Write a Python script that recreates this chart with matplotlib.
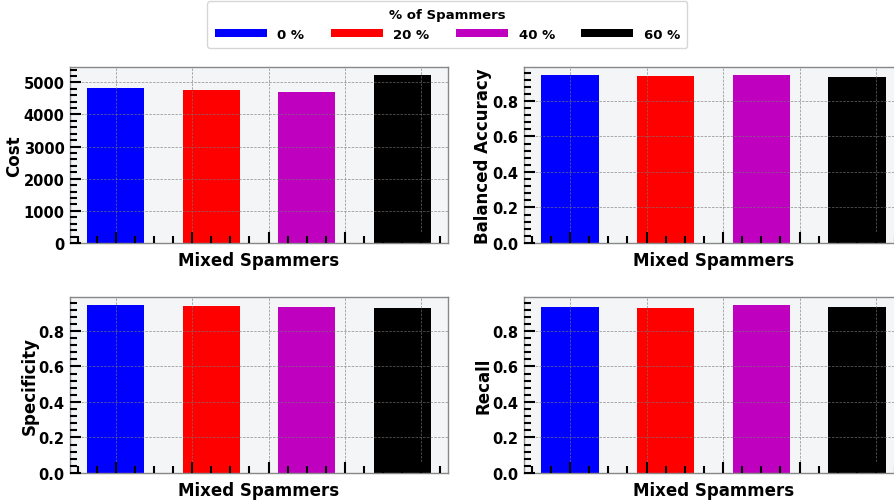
import numpy as np
import matplotlib.pyplot as plt
from matplotlib.ticker import AutoMinorLocator, MultipleLocator

plt.rcParams['font.family'] = ['DejaVu Sans']
plt.rcParams['font.weight'] = 'bold'

groupes = ['0 %', '20 %', '40 %', '60 %']
couleurs = ['#0000ff', '#ff0000', '#bf00bf', '#000000']

cost = [4814, 4773, 4711, 5217]
balanced_acc = [0.944, 0.940, 0.944, 0.937]
specificity = [0.944, 0.939, 0.935, 0.931]
recall = [0.935, 0.931, 0.944, 0.935]

panneaux = [('Cost', cost), ('Balanced Accuracy', balanced_acc),
            ('Specificity', specificity), ('Recall', recall)]

W, H = 895, 502
fig = plt.figure(figsize=(W / 100, H / 100), dpi=100)

# positions des axes en pixels : (gauche, haut, droite, bas)
boites = [(70, 68, 448, 244), (524, 68, 903, 244),
          (70, 298, 448, 474), (524, 298, 903, 474)]

largeur = 0.75
pas = 1.25
x = np.arange(len(groupes)) * pas

for (label, valeurs), (x0, y0, x1, y1) in zip(panneaux, boites):
    ax = fig.add_axes([x0 / W, 1 - y1 / H, (x1 - x0) / W, (y1 - y0) / H])
    ax.set_facecolor('#f4f5f7')
    barres = ax.bar(x, valeurs, width=largeur, color=couleurs,
                    edgecolor='none', zorder=1)
    ax.grid(True, which='major', color='#777777', alpha=0.7,
            linestyle=(0, (3, 1.5)), linewidth=0.6, zorder=3)
    ax.set_axisbelow(False)
    ax.xaxis.set_major_locator(MultipleLocator(1))
    ax.xaxis.set_minor_locator(MultipleLocator(0.25))
    ax.yaxis.set_minor_locator(AutoMinorLocator(5))
    ax.tick_params(axis='x', which='major', direction='in', length=8,
                   width=1.5, bottom=True, top=False, labelbottom=False)
    ax.tick_params(axis='x', which='minor', direction='in', length=5,
                   width=1.5, bottom=True, top=False)
    ax.tick_params(axis='y', which='major', direction='in', length=8,
                   width=1.5, left=True, right=False, labelsize=10.5, pad=4)
    ax.tick_params(axis='y', which='minor', direction='in', length=5,
                   width=1.5, left=True, right=False)
    for s in ax.spines.values():
        s.set_color('#888888')
        s.set_linewidth(1.0)
    ax.set_xlabel('Mixed Spammers', fontsize=12, fontweight='bold', labelpad=2)
    ax.set_ylabel(label, fontsize=12, fontweight='bold', labelpad=0)
    for t in ax.get_yticklabels():
        t.set_fontweight('bold')

handles = barres.patches
fig.legend(handles, groupes, loc='upper center', bbox_to_anchor=(0.5, 0.996),
           borderaxespad=0, ncol=4, title='% of Spammers', handlelength=3.95,
           handleheight=0.6, handletextpad=0.8, columnspacing=2.0,
           borderpad=0.55,
           title_fontproperties={'weight': 'bold', 'size': 9.5},
           prop={'weight': 'bold', 'size': 9.5}, frameon=True, fancybox=True,
           edgecolor='#cccccc')

fig.savefig('out.png', dpi=100)
